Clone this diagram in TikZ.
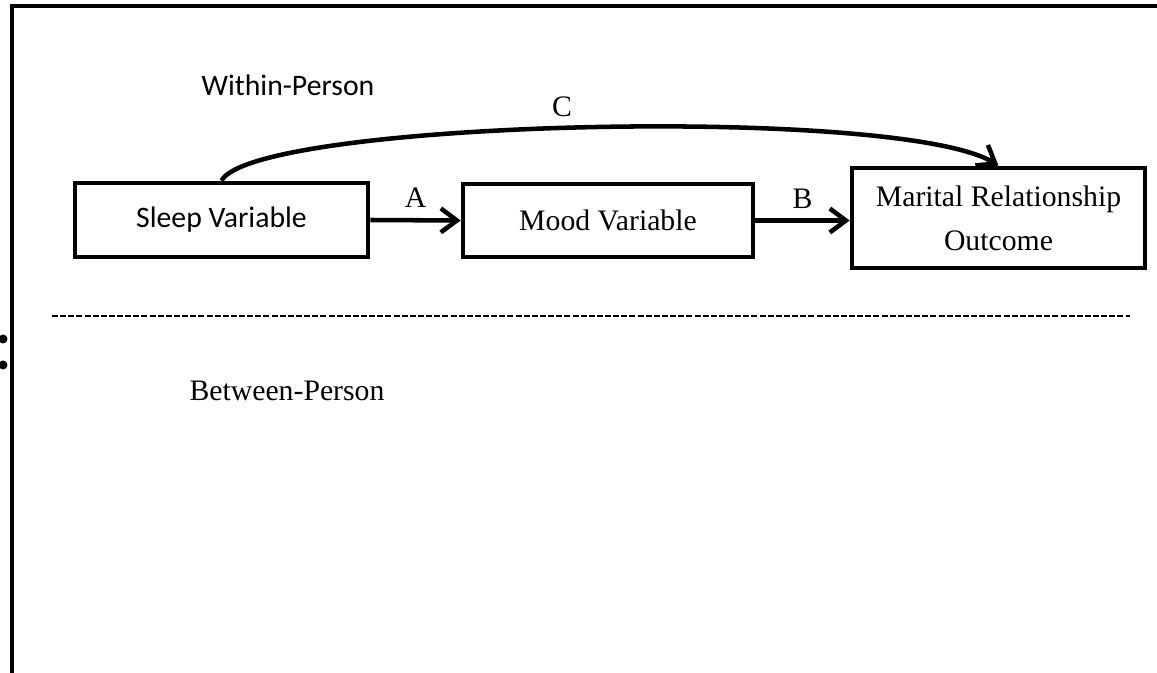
\documentclass[tikz,border=0pt]{standalone}
\usepackage{fontspec}
\setmainfont{Liberation Serif}
\newfontfamily\carl{Carlito}
\usetikzlibrary{arrows.meta}
\tikzset{
  box/.style={draw, line width=3.6pt, rectangle, align=center, inner sep=0pt},
  arr/.style={line width=3.4pt, -{Straight Barb[length=12pt, width=18pt, line width=3.4pt]}},
  lbl/.style={inner sep=0pt, font=\fontsize{22.3}{26}\selectfont},
  frame/.style={line width=2.6pt},
}
\begin{document}
\begin{tikzpicture}[x=0.75pt, y=-0.75pt, font=\fontsize{22.3}{33}\selectfont]
\useasboundingbox (0,0) rectangle (1157,673);
% frame
\draw[frame] (12,673) -- (12,6) -- (1157,6);
\fill (3,339) circle (4.5);
\fill (3,365) circle (4.5);
% headings
\node[lbl, font=\carl\fontsize{22.3}{26}\selectfont] (within) at (288,85) {Within-Person};
\node[lbl] (between) at (287,391) {Between-Person};
% boxes
\node[box, font=\carl\fontsize{22.3}{26}\selectfont, minimum width=219.75pt, minimum height=55.5pt] (sleep) at (221.5,220) {Sleep Variable};
\node[box, minimum width=217.5pt, minimum height=54.75pt] (mood) at (608,220.5) {Mood Variable};
\node[box, minimum width=219.75pt, minimum height=75pt] (marital) at (998.5,218) {Marital Relationship\\Outcome};
% arrows
\draw[arr] (sleep.east) -- (mood.west) node[lbl, midway, above=8pt] (la) {A};
\draw[arr] (mood.east) -- (mood.east -| marital.west) node[lbl, midway, above=7pt] (lb) {B};
\draw[arr] (sleep.north) .. controls (255,120) and (900,105) .. (marital.north);
\node[lbl] (lc) at (562,107) {C};
% dashed separator
\coordinate (dl) at (52,316);
\coordinate (dr) at (1130,316);
\draw[line width=1.8pt, dash pattern=on 4.5pt off 1.6pt] (dl) -- (dr);
\end{tikzpicture}
\end{document}
